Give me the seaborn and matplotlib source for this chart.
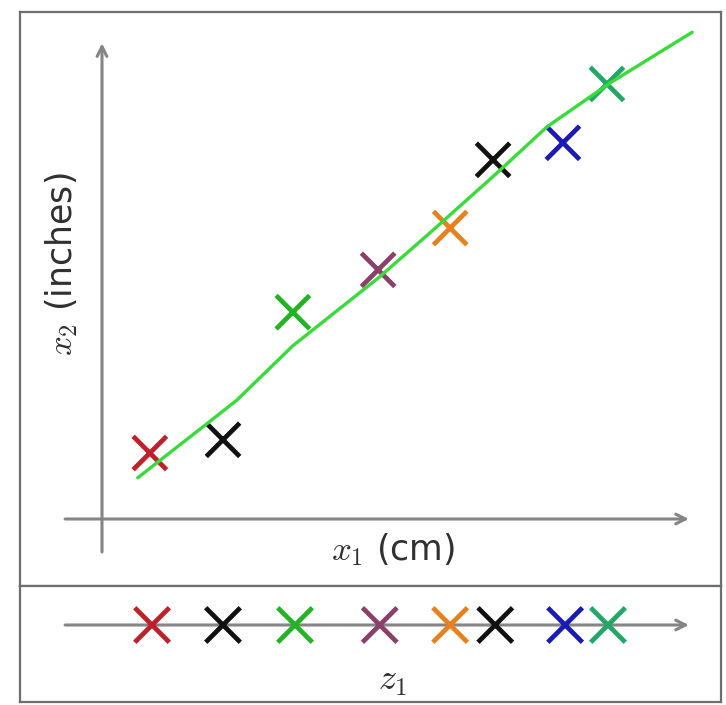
import matplotlib
matplotlib.use("Agg")
import matplotlib.pyplot as plt
import seaborn as sns
import pandas as pd

# ---- data (arbitrary units) ----
point_ids = ["p1", "p2", "p3", "p4", "p5", "p6", "p7", "p8"]
x1_vals = [0.87, 2.20, 3.47, 5.02, 6.33, 7.11, 8.38, 9.18]
x2_vals = [1.20, 1.44, 3.76, 4.53, 5.29, 6.53, 6.84, 7.91]
z1_vals = [0.91, 2.20, 3.51, 5.05, 6.33, 7.15, 8.42, 9.20]
point_colors = ["#c0202a", "#111111", "#22b422", "#8a4068",
                "#e8801e", "#111111", "#1a1ab8", "#22a866"]

line_x1 = [0.65, 1.93, 2.45, 3.47, 5.02, 5.96, 7.18, 8.09, 9.24, 10.73]
line_x2 = [0.75, 1.75, 2.16, 3.15, 4.38, 5.20, 6.29, 7.13, 7.93, 8.85]

# ---- styling ----
sns.set_style("white")
plt.rcParams["font.family"] = ["DejaVu Sans"]
plt.rcParams["mathtext.fontset"] = "cm"

W, H = 726, 705
fig = plt.figure(figsize=(W / 100, H / 100), dpi=100)

def frac(l, t, r, b):
    return [l / W, 1 - b / H, (r - l) / W, (b - t) / H]

ax = fig.add_axes(frac(20, 12, 721, 586))
axz = fig.add_axes(frac(20, 586, 721, 702))

unit = 55.0
ox, oy = 102, 519
xlim = ((20 - ox) / unit, (721 - ox) / unit)
ax.set_xlim(*xlim)
ax.set_ylim((oy - 586) / unit, (oy - 12) / unit)
axz.set_xlim(*xlim)
axz.set_ylim(-(702 - 625) / unit, (625 - 586) / unit)

axis_col = "#858585"
for a in (ax, axz):
    a.set_xticks([])
    a.set_yticks([])
    for s in a.spines.values():
        s.set_visible(True)
        s.set_color("#6e6e6e")
        s.set_linewidth(1.6)

arrow = dict(arrowstyle="->,head_length=0.7,head_width=0.35",
             lw=2.2, color=axis_col, shrinkA=0, shrinkB=0)
# upper axes arrows
ax.annotate("", xy=(10.67, 0), xytext=(-0.67, 0), arrowprops=arrow, zorder=1)
ax.annotate("", xy=(0, 8.65), xytext=(0, -0.6), arrowprops=arrow, zorder=1)
# lower axis arrow
axz.annotate("", xy=(10.67, 0), xytext=(-0.67, 0), arrowprops=arrow, zorder=1)

df = pd.DataFrame({"id": point_ids, "x1": x1_vals, "x2": x2_vals, "z1": z1_vals})
pal = dict(zip(point_ids, point_colors))

sns.scatterplot(data=df, x="x1", y="x2", hue="id", palette=pal, marker="x",
                s=580, linewidth=3.4, legend=False, ax=ax, zorder=3)
line_df = pd.DataFrame({"x1": line_x1, "x2": line_x2})
sns.lineplot(data=line_df, x="x1", y="x2", sort=False, estimator=None,
             color="#38dc38", lw=2.4, ax=ax, zorder=4)

df["zero"] = 0.0
sns.scatterplot(data=df, x="z1", y="zero", hue="id", palette=pal, marker="x",
                s=620, linewidth=3.4, legend=False, ax=axz, zorder=3)

for a in (ax, axz):
    a.set_xlabel("")
    a.set_ylabel("")

txt_col = "#303030"
ax.text((393 - ox) / unit, (oy - 550) / unit, r"$x_1$ (cm)", ha="center",
        va="center", fontsize=25, color=txt_col)
ax.text((62 - ox) / unit, (oy - 264) / unit, r"$x_2$ (inches)", ha="center",
        va="center", rotation=90, fontsize=25, color=txt_col)
axz.text((393 - ox) / unit, (625 - 681) / unit, r"$z_1$", ha="center",
         va="center", fontsize=26, color=txt_col)

fig.savefig("out.png", dpi=100)
